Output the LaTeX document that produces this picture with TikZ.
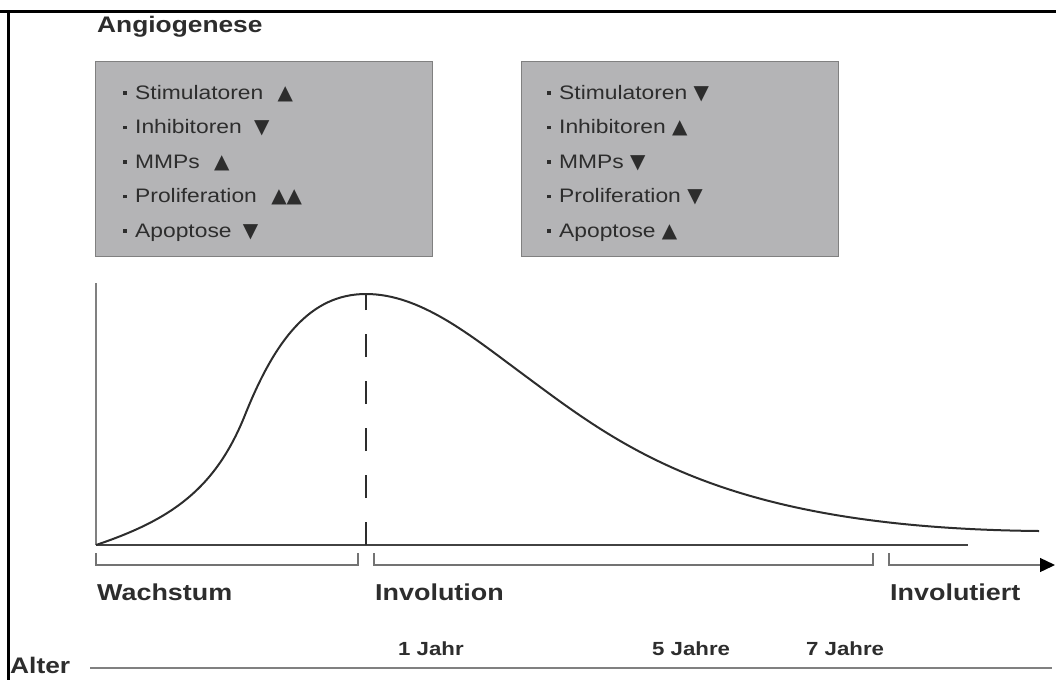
\documentclass[tikz,border=0pt]{standalone}
\usepackage{fontspec}
\setmainfont{Liberation Sans}[FakeStretch=1.17]
\newfontfamily\symfont{DejaVu Sans}
\usetikzlibrary{arrows.meta}
\definecolor{boxgray}{RGB}{180,180,182}
\definecolor{inkgray}{RGB}{45,45,45}
\newcommand{\up}{{\symfont\fontsize{20}{20}\selectfont ▲}}
\newcommand{\dn}{{\symfont\fontsize{20}{20}\selectfont ▼}}
\newcommand{\dotsq}{\rule[4.5pt]{3.5pt}{3.5pt}\hspace{8.5pt}}

\begin{document}
\begin{tikzpicture}[x=1pt, y=-1pt,
    panel/.style={draw=gray, fill=boxgray, line width=1pt, minimum width=337pt, minimum height=195pt, anchor=north west, inner sep=0pt},
    item/.style={anchor=base west, inner sep=0pt, text=inkgray, font=\fontsize{19.5}{23}\selectfont},
    phase/.style={anchor=base west, inner sep=0pt, text=inkgray, font=\bfseries\fontsize{23}{27}\selectfont},
    year/.style={anchor=base west, inner sep=0pt, text=inkgray, font=\bfseries\fontsize{19}{23}\selectfont},
    bracket/.style={draw=gray!90!black, line width=1.3pt}]
        \useasboundingbox (0, 0) rectangle (1056, 680);
        % frame
        \draw[line width=3pt] (0, 11) -- (1056, 11);
        \draw[line width=3pt] (8, 11) -- (8, 680);
        \node[phase, font=\bfseries\fontsize{22.5}{26}\selectfont] (title) at (97, 32) {Angiogenese};
        % boxes
        \node[panel] (grow) at (95, 61) {};
        \node[panel, minimum width=317pt] (shrink) at (521, 61) {};
        \foreach \txt [count=\i] in {Stimulatoren\hspace{8pt} \up, Inhibitoren\hspace{6pt} \dn, MMPs\hspace{8pt} \up, Proliferation\hspace{8pt} \up\up, Apoptose\hspace{5pt} \dn}
            \node[item] (g\i) at (123, {99 + 34.6*(\i-1)}) {\dotsq\txt};
        \foreach \txt [count=\i] in {Stimulatoren \dn, Inhibitoren \up, MMPs \dn, Proliferation \dn, Apoptose \up}
            \node[item] (s\i) at (547, {99 + 34.6*(\i-1)}) {\dotsq\txt};
        % axes and curve
        \draw[draw=gray, line width=1.5pt] (96, 545) -- (96, 283);
        \draw[draw=inkgray!90, line width=1.4pt] (96, 545) -- (968, 545);
        \draw[inkgray, line width=2pt] (96, 545) .. controls (170, 520) and (215, 490) .. (245, 415)
            .. controls (275, 340) and (310, 294) .. (366, 294)
            .. controls (420, 294) and (470, 335) .. (520, 372)
            .. controls (620, 446) and (720, 528) .. (1039, 531);
        \draw[inkgray, line width=2pt, dash pattern=on 23pt off 24pt] (366, 545) -- (366, 294);
        % phases
        \draw[bracket] (96, 553) -- (96, 565) -- (358, 565) -- (358, 553);
        \draw[bracket] (374, 553) -- (374, 565) -- (873, 565) -- (873, 553);
        \draw[bracket, -{Triangle[length=15pt, width=14pt, color=black]}] (889, 553) -- (889, 565) -- (1055, 565);
        \node[phase] (wachs) at (97, 600) {Wachstum};
        \node[phase] (invol) at (375, 600) {Involution};
        \node[phase] (invtd) at (890, 600) {Involutiert};
        % age
        \node[year] (j1) at (398, 655) {1 Jahr};
        \node[year] (j5) at (652, 655) {5 Jahre};
        \node[year] (j7) at (806, 655) {7 Jahre};
        \node[phase, font=\bfseries\fontsize{22.5}{26}\selectfont] (alter) at (10, 673) {Alter};
        \draw[draw=gray, line width=2pt] (90, 668) -- (1052, 668);
    \end{tikzpicture}
\end{document}
